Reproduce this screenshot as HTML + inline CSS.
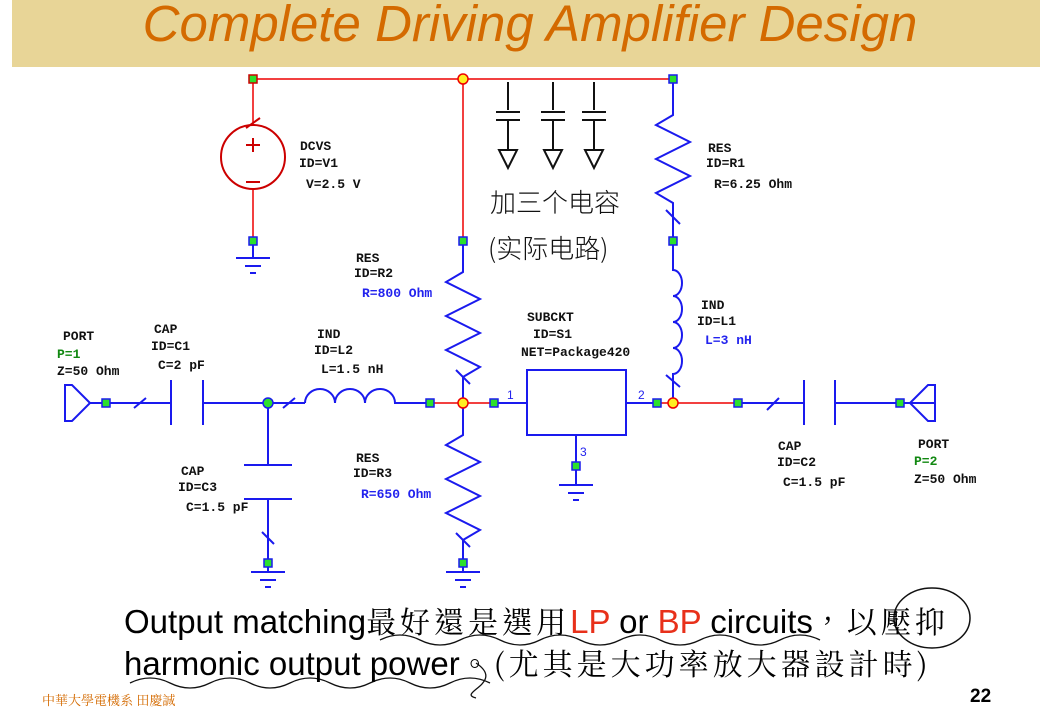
<!DOCTYPE html>
<html><head><meta charset="utf-8"><style>
body{margin:0;width:1060px;height:712px;background:#fff;overflow:hidden;position:relative;font-family:"Liberation Sans",sans-serif}
.tb{position:absolute;left:12px;top:0;width:1028px;height:67px;background:#e8d597}
.tt{position:absolute;left:0;width:1060px;top:-4px;text-align:center;color:#d46a00;font-style:italic;font-size:51px;line-height:56px}
svg{position:absolute;left:0;top:0}
.m{font-family:"Liberation Mono",monospace;font-size:13px;font-weight:bold;fill:#111}
.b{fill:#2222ee}.g{fill:#118811}
.t{position:absolute;font-size:33px;color:#000;font-family:"Liberation Sans","Noto Serif CJK SC",serif;white-space:nowrap}
.c{font-family:"Noto Serif CJK TC","Noto Serif CJK SC",serif;font-size:30px;letter-spacing:4px}
</style></head><body>
<div class="tb"></div><div class="tt">Complete Driving Amplifier Design</div>
<svg width="1060" height="712">
<g fill="none" stroke-width="2">
<path d="M253 79H673M253 79V125M253 189V241M463 79V241M430 403H494M657 403H738" stroke="#e00" stroke-width="1.5"/>
<circle cx="253" cy="157" r="32" stroke="#c00"/>
<path d="M246 145h14M253 138v14M246 182h14M246 128l14-10" stroke="#c00"/>
<g stroke="#1a1aee">
<path d="M253 241V258M236 258h34M245 266h16M250 273h6"/>
<path d="M463 241V272l-17 10 34 17-34 17 34 17-34 17 34 17-17 10V403M456 370l14 14"/>
<path d="M463 403V435l-17 10 34 17-34 17 34 17-34 17 34 17-17 10V572M446 572h34M455 580h16M460 587h6M456 533l14 14"/>
<path d="M90 403H171M171 380v45M203 380v45M203 403H305M134 408l12-10M283 408l12-10"/>
<path d="M305 403a15 14 0 0 1 30 0a15 14 0 0 1 30 0a15 14 0 0 1 30 0H430"/>
<path d="M268 403V465M244 465h48M244 499h48M268 499V572M251 572h34M260 580h16M265 587h6M262 532l12 12"/>
<path d="M494 403H527M527 370h99v65h-99zM626 403H657M576 435V485M559 485h34M568 493h16M573 500h6"/>
<path d="M738 403H804M804 380v45M835 380v45M835 403H935M910 403l18-18h7v36h-7z M767 410l12-12"/>
<path d="M90 403l-18-18h-7v36h7z"/>
<path d="M673 79V115l-17 10 34 17-34 17 34 17-34 17 17 10V241M666 210l14 14"/>
<path d="M673 241V270a9 13 0 0 1 0 26a9 13 0 0 1 0 26a9 13 0 0 1 0 26a9 13 0 0 1 0 26V403M666 375l14 12"/>
</g>
<g stroke="#111" stroke-width="2">
<path d="M508 82v28M496 112h24M496 120h24M508 120v30M499 150h18l-9 18z"/>
<path d="M553 82v28M541 112h24M541 120h24M553 120v30M544 150h18l-9 18z"/>
<path d="M594 82v28M582 112h24M582 120h24M594 120v30M585 150h18l-9 18z"/>
<ellipse cx="932" cy="618" rx="38" ry="30" stroke-width="1.5"/>
<path d="M380 640q20-10 40 0t40 0 40 0 40 0 40 0 40 0 40 0 40 0 40 0 40 0 40 0M130 683q20-10 40 0t40 0 40 0 40 0 40 0 40 0 40 0 40 0 40 0M476 663c30 20-20 30 0 35" stroke-width="1.3"/>
</g>
</g>
<g fill="#2ce02c" stroke="#1a1aee" stroke-width="1.5">
<rect x="249" y="75" width="8" height="8" stroke="#c00"/><rect x="669" y="75" width="8" height="8"/>
<rect x="249" y="237" width="8" height="8"/><rect x="459" y="237" width="8" height="8"/><rect x="669" y="237" width="8" height="8"/>
<rect x="102" y="399" width="8" height="8"/><rect x="426" y="399" width="8" height="8"/><rect x="490" y="399" width="8" height="8"/>
<rect x="653" y="399" width="8" height="8"/><rect x="734" y="399" width="8" height="8"/><rect x="896" y="399" width="8" height="8"/>
<rect x="264" y="559" width="8" height="8"/><rect x="459" y="559" width="8" height="8"/><rect x="572" y="462" width="8" height="8"/>
<circle cx="268" cy="403" r="5"/>
</g>
<g fill="#ffee22" stroke="#e00" stroke-width="1.5"><circle cx="463" cy="79" r="5"/><circle cx="463" cy="403" r="5"/><circle cx="673" cy="403" r="5"/></g>
<g class="m">
<text x="300" y="150">DCVS</text><text x="299" y="167">ID=V1</text><text x="306" y="188">V=2.5 V</text>
<text x="356" y="262">RES</text><text x="354" y="277">ID=R2</text><text x="362" y="297" class="b">R=800 Ohm</text>
<text x="708" y="152">RES</text><text x="706" y="167">ID=R1</text><text x="714" y="188">R=6.25 Ohm</text>
<text x="63" y="340">PORT</text><text x="57" y="358" class="g">P=1</text><text x="57" y="375">Z=50 Ohm</text>
<text x="154" y="333">CAP</text><text x="151" y="350">ID=C1</text><text x="158" y="369">C=2 pF</text>
<text x="317" y="338">IND</text><text x="314" y="354">ID=L2</text><text x="321" y="373">L=1.5 nH</text>
<text x="527" y="321">SUBCKT</text><text x="533" y="338">ID=S1</text><text x="521" y="356">NET=Package420</text>
<text x="701" y="309">IND</text><text x="697" y="325">ID=L1</text><text x="705" y="344" class="b">L=3 nH</text>
<text x="356" y="462">RES</text><text x="353" y="477">ID=R3</text><text x="361" y="498" class="b">R=650 Ohm</text>
<text x="181" y="475">CAP</text><text x="178" y="491">ID=C3</text><text x="186" y="511">C=1.5 pF</text>
<text x="778" y="450">CAP</text><text x="777" y="466">ID=C2</text><text x="783" y="486">C=1.5 pF</text>
<text x="918" y="448">PORT</text><text x="914" y="465" class="g">P=2</text><text x="914" y="483">Z=50 Ohm</text>
</g>
<g font-size="12" fill="#2222ee" font-family="Liberation Sans"><text x="507" y="399">1</text><text x="638" y="399">2</text><text x="580" y="456">3</text></g>
<g font-family="Noto Sans CJK SC,sans-serif" font-size="26" fill="#111" font-weight="300"><text x="490" y="212">加三个电容</text><text x="488" y="258">(实际电路)</text></g>
</svg>
<div class="t" style="left:124px;top:598px">Output matching<span class="c">最好還是選用</span><span style="color:#e8301a">LP</span> or <span style="color:#e8301a">BP</span> circuits<span class="c">，以壓抑</span></div>
<div class="t" style="left:124px;top:640px">harmonic output power<span class="c">。(尤其是大功率放大器設計時)</span></div>
<div style="position:absolute;left:42px;top:690px;font-size:13px;color:#d46a00;font-family:'Noto Serif CJK TC',serif">中華大學電機系 田慶誠</div>
<div style="position:absolute;left:970px;top:686px;font-size:19px;font-weight:bold">22</div>
</body></html>
